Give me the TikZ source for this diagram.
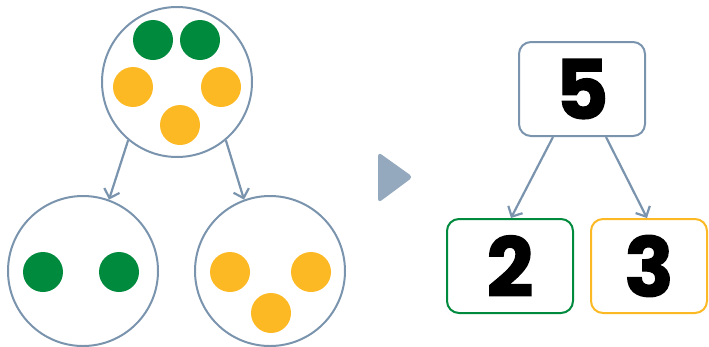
\documentclass[tikz,border=0pt]{standalone}
\usepackage{fontspec}
\setmainfont{Liberation Sans}
\newfontfamily\digitfont{Poppins}[BoldFeatures={FakeBold=1.5}]
\usetikzlibrary{arrows.meta}
\definecolor{lineblue}{HTML}{7A94AE}
\definecolor{trifill}{HTML}{94A9BE}
\definecolor{dotgreen}{HTML}{008A3E}
\definecolor{dotyellow}{HTML}{FDB924}
\tikzset{
  bigcirc/.style={circle, draw=lineblue, line width=2pt, minimum size=150pt, inner sep=0pt},
  gdot/.style={circle, fill=dotgreen, minimum size=40pt, inner sep=0pt},
  ydot/.style={circle, fill=dotyellow, minimum size=40pt, inner sep=0pt},
  arr/.style={draw=lineblue, line width=2.2pt, -{Straight Barb[length=8pt,width=16pt,line width=2.2pt]}},
  numbox/.style={draw, rounded corners=12pt, line width=2pt, minimum height=94pt, inner sep=0pt,
     font=\digitfont\bfseries\fontsize{82}{82}\selectfont},
}
\begin{document}
\begin{tikzpicture}[x=1pt,y=-1pt]
\useasboundingbox (0,0) rectangle (709,346);
% circles
\node[bigcirc] (top) at (177,82) {};
\node[bigcirc] (bl) at (83,271) {};
\node[bigcirc] (br) at (270,271) {};
% dots in top circle
\node[gdot] (t1) at (153,40) {};
\node[gdot] (t2) at (200,40) {};
\node[ydot] (t3) at (133,87) {};
\node[ydot] (t4) at (221,87) {};
\node[ydot] (t5) at (180,125) {};
% dots bottom left
\node[gdot] (l1) at (43,272) {};
\node[gdot] (l2) at (119,272) {};
% dots bottom right
\node[ydot] (r1) at (230,272) {};
\node[ydot] (r2) at (311,272) {};
\node[ydot] (r3) at (271,313) {};
% arrows circles
\draw[arr] (top.230) -- (bl.70);
\draw[arr] (top.310) -- (br.110);
% triangle
\fill[trifill, rounded corners=4pt] (378,152) -- (413,177) -- (378,203) -- cycle;
% boxes
\node[numbox, draw=lineblue, minimum width=126pt] (b5) at (582,89) {5};
\node[numbox, draw=dotgreen, minimum width=126pt] (b2) at (510,266) {2};
\node[numbox, draw=dotyellow, minimum width=116pt] (b3) at (649,266) {3};
\draw[arr] ([xshift=-29pt]b5.south) -- ([xshift=1pt]b2.north);
\draw[arr] ([xshift=24pt]b5.south) -- ([xshift=-2pt]b3.north);
\end{tikzpicture}
\end{document}
